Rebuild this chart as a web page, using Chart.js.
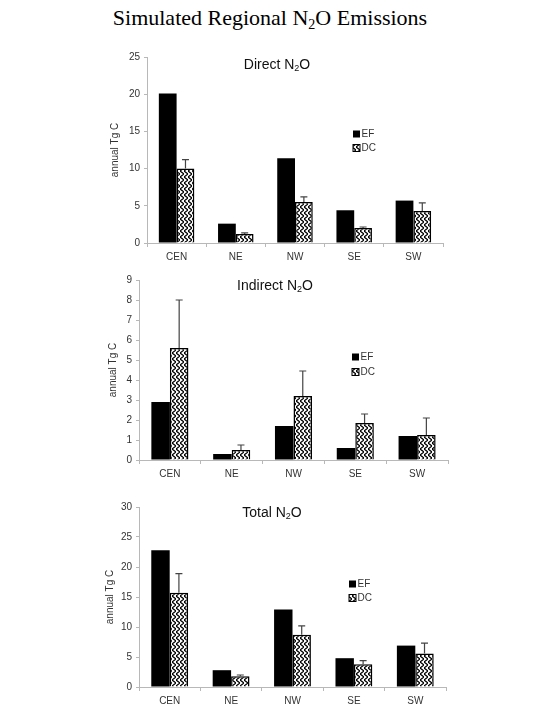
<!DOCTYPE html>
<html>
<head>
<meta charset="utf-8">
<script src="https://cdn.jsdelivr.net/npm/chart.js@4.4.1/dist/chart.umd.min.js"></script>
<style>
  body { margin: 0; background: #fff; width: 540px; height: 720px; position: relative; overflow: hidden; }
  #main-title { position: absolute; top: 5px; left: 0; width: 540px; text-align: center;
    font-family: "Liberation Serif", "DejaVu Serif", serif; font-size: 22px; color: #000; }
  #main-title sub { font-size: 14px; vertical-align: -4px; line-height: 0; }
  .box { position: absolute; left: 0; width: 540px; }
</style>
</head>
<body>
<div id="main-title">Simulated Regional N<sub>2</sub>O Emissions</div>
<div class="box" style="top:40px;height:230px"><canvas id="direct-chart"></canvas></div>
<div class="box" style="top:270px;height:215px"><canvas id="indirect-chart"></canvas></div>
<div class="box" style="top:495px;height:220px"><canvas id="total-chart"></canvas></div>
<script>
const regions = ['CEN', 'NE', 'NW', 'SE', 'SW'];
const seriesNames = ['EF', 'DC'];

const directEF = [20.1, 2.6, 11.4, 4.4, 5.7];
const directDC = [10.0, 1.2, 5.5, 2.0, 4.3];
const directDCTop = [11.2, 1.35, 6.2, 2.15, 5.4];

const indirectEF = [2.9, 0.3, 1.7, 0.6, 1.2];
const indirectDC = [5.6, 0.5, 3.2, 1.85, 1.25];
const indirectDCTop = [8.0, 0.75, 4.45, 2.3, 2.1];

const totalEF = [22.8, 2.8, 12.9, 4.8, 6.9];
const totalDC = [15.7, 1.8, 8.7, 3.8, 5.6];
const totalDCTop = [18.9, 2.0, 10.2, 4.4, 7.3];

const axisColor = '#b8b8b8';
const textColor = '#333';
const font = 'Arial, "Liberation Sans", sans-serif';

function zigzagPattern() {
  const tile = document.createElement('canvas');
  tile.width = 4;
  tile.height = 6;
  const c = tile.getContext('2d');
  c.fillStyle = '#fff';
  c.fillRect(0, 0, 4, 6);
  c.strokeStyle = '#000';
  c.lineWidth = 1.3;
  c.beginPath();
  c.moveTo(0, -1);
  c.lineTo(4, 2);
  c.lineTo(0, 5);
  c.lineTo(4, 8);
  c.stroke();
  return c.createPattern(tile, 'repeat');
}

// title drawn inside the plot area, like the original figure
const innerTitle = {
  id: 'innerTitle',
  afterDraw(chart, args, opts) {
    const c = chart.ctx;
    const area = chart.chartArea;
    c.save();
    c.fillStyle = '#111';
    c.textBaseline = 'middle';
    c.font = '14px ' + font;
    const x = area.left + opts.x;
    const y = area.top + opts.y;
    const w1 = c.measureText(opts.text).width;
    c.font = '9px ' + font;
    const w2 = c.measureText('2').width;
    c.font = '14px ' + font;
    const w3 = c.measureText('O').width;
    let px = x - (w1 + w2 + w3) / 2;
    c.textAlign = 'left';
    c.fillText(opts.text, px, y);
    px += w1;
    c.font = '9px ' + font;
    c.fillText('2', px, y + 4);
    px += w2;
    c.font = '14px ' + font;
    c.fillText('O', px, y);
    c.restore();
  }
};

// one-sided error bars on the DC series
const errorBars = {
  id: 'errorBars',
  afterDatasetsDraw(chart, args, opts) {
    const meta = chart.getDatasetMeta(1);
    const yScale = chart.scales.y;
    const c = chart.ctx;
    c.save();
    c.strokeStyle = '#444';
    c.lineWidth = 1.2;
    meta.data.forEach((bar, i) => {
      const top = yScale.getPixelForValue(opts.tops[i]);
      c.beginPath();
      c.moveTo(bar.x, bar.y);
      c.lineTo(bar.x, top);
      c.moveTo(bar.x - 3.5, top);
      c.lineTo(bar.x + 3.5, top);
      c.stroke();
    });
    c.restore();
  }
};

// small legend placed inside the plot area
const boxLegend = {
  id: 'boxLegend',
  afterDraw(chart, args, opts) {
    const c = chart.ctx;
    const area = chart.chartArea;
    c.save();
    chart.data.datasets.forEach((ds, i) => {
      const x = area.left + opts.x;
      const y = area.top + opts.y + i * opts.gap;
      c.fillStyle = ds.backgroundColor;
      c.fillRect(x, y - 3.5, 7, 7);
      if (ds.borderWidth) {
        c.strokeStyle = '#000';
        c.lineWidth = 1;
        c.strokeRect(x, y - 3.5, 7, 7);
      }
      c.fillStyle = textColor;
      c.font = '10px ' + font;
      c.textBaseline = 'middle';
      c.fillText(ds.label, x + 8.5, y);
    });
    c.restore();
  }
};

function makeChart(id, cfg) {
  const pattern = zigzagPattern();
  return new Chart(document.getElementById(id), {
    type: 'bar',
    data: {
      labels: regions,
      datasets: [
        { label: seriesNames[0], data: cfg.ef, backgroundColor: '#000', borderWidth: 0 },
        { label: seriesNames[1], data: cfg.dc, backgroundColor: pattern, borderColor: '#000', borderWidth: 1.5 }
      ]
    },
    options: {
      responsive: true,
      maintainAspectRatio: false,
      animation: false,
      datasets: { bar: { categoryPercentage: 0.6, barPercentage: 1 } },
      layout: { padding: cfg.padding },
      plugins: {
        legend: { display: false },
        tooltip: { enabled: false },
        innerTitle: cfg.title,
        errorBars: { tops: cfg.tops },
        boxLegend: cfg.legend
      },
      scales: {
        x: {
          offset: true,
          border: { color: axisColor, width: 1 },
          grid: { display: true, drawOnChartArea: false, offset: true, tickLength: 4, color: axisColor },
          ticks: { color: textColor, font: { family: font, size: 10 }, padding: 4 },
          afterFit: (s) => { s.height = 20; }
        },
        y: {
          min: 0,
          max: cfg.max,
          border: { color: axisColor, width: 1 },
          grid: { display: true, drawOnChartArea: false, tickLength: 3, color: axisColor },
          ticks: { stepSize: cfg.step, color: textColor, font: { family: font, size: 10 }, padding: 4 },
          title: { display: true, text: 'annual Tg C', color: textColor, font: { family: font, size: 10 }, padding: 0 },
          afterFit: (s) => { s.width = cfg.yWidth; }
        }
      }
    },
    plugins: [innerTitle, errorBars, boxLegend]
  });
}

makeChart('direct-chart', {
  ef: directEF, dc: directDC, tops: directDCTop, max: 25, step: 5, yWidth: 38,
  padding: { left: 109, right: 97, top: 17, bottom: 7 },
  title: { text: 'Direct N', x: 130, y: 8 },
  legend: { x: 206, y: 77, gap: 14 }
});

makeChart('indirect-chart', {
  ef: indirectEF, dc: indirectDC, tops: indirectDCTop, max: 9, step: 1, yWidth: 32,
  padding: { left: 107, right: 92, top: 10, bottom: 5 },
  title: { text: 'Indirect N', x: 136, y: 6 },
  legend: { x: 213, y: 77, gap: 15 }
});

makeChart('total-chart', {
  ef: totalEF, dc: totalDC, tops: totalDCTop, max: 30, step: 5, yWidth: 35,
  padding: { left: 104, right: 94, top: 12, bottom: 8 },
  title: { text: 'Total N', x: 133, y: 6 },
  legend: { x: 210, y: 77, gap: 14 }
});
</script>
</body>
</html>
